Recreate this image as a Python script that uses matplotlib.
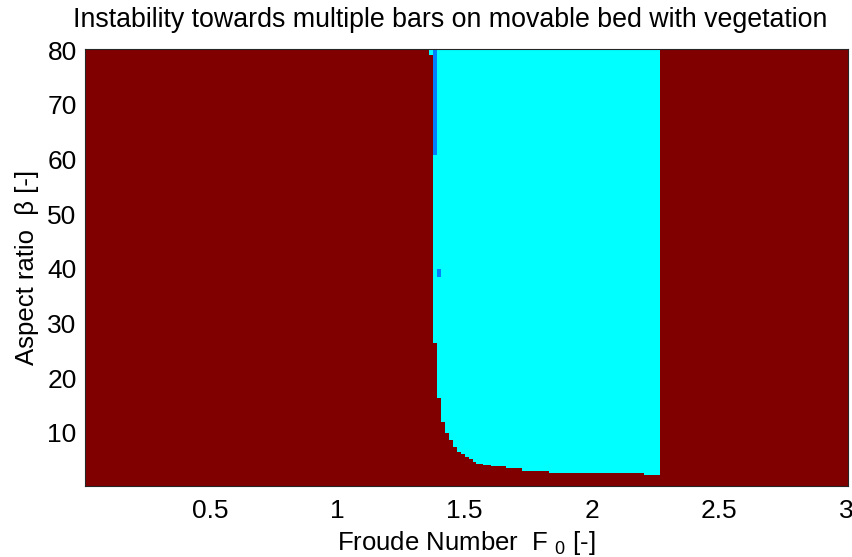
import numpy as np
import matplotlib
matplotlib.use("Agg")
import matplotlib.pyplot as plt
from matplotlib.colors import ListedColormap, BoundaryNorm

plt.rcParams['font.family'] = ['Liberation Sans', 'DejaVu Sans']
plt.rcParams['mathtext.fontset'] = 'custom'
plt.rcParams['mathtext.rm'] = 'Liberation Sans'
plt.rcParams['mathtext.it'] = 'Liberation Sans'

# Parameter space
F_MIN, F_MAX = 0.0075, 3.0075
B_MIN, B_MAX = 0.25, 80.25

# Strips of Froude number where multiple bars are unstable (one entry per strip edge)
froude_bounds = [1.3613, 1.3770, 1.3927, 1.4084, 1.4229, 1.4387, 1.4544,
                 1.4701, 1.4847, 1.5004, 1.5162, 1.5319, 1.5460, 1.5736,
                 1.6038, 1.6628, 1.7245, 1.8319, 2.2066, 2.2683]
# Lowest unstable aspect ratio in each strip
beta_onset = [79.2, 26.37, 16.30, 11.91, 9.90, 8.67, 7.44, 6.53, 6.11,
              5.61, 5.14, 4.59, 4.28, 4.10, 3.91, 3.49, 3.05, 2.63, 2.26]

# Pockets where a second mode dominates
mode2_f_lo = [1.3770, 1.3927]
mode2_f_hi = [1.3927, 1.4084]
mode2_b_lo = [60.9, 38.6]
mode2_b_hi = [80.25, 39.9]

xticks = [0.5, 1, 1.5, 2, 2.5, 3]
yticks = [10, 20, 30, 40, 50, 60, 70, 80]

# Build the class map on a grid whose edges follow the region boundaries
x_edges = np.unique(np.r_[F_MIN, froude_bounds, mode2_f_lo, mode2_f_hi, F_MAX])
y_edges = np.unique(np.r_[B_MIN, beta_onset, mode2_b_lo, mode2_b_hi, B_MAX])
xc = 0.5 * (x_edges[:-1] + x_edges[1:])
yc = 0.5 * (y_edges[:-1] + y_edges[1:])
XC, YC = np.meshgrid(xc, yc)

state = np.zeros_like(XC, dtype=int)  # 0 = stable
for lo, hi, b in zip(froude_bounds[:-1], froude_bounds[1:], beta_onset):
    state[(XC > lo) & (XC < hi) & (YC > b)] = 1
for flo, fhi, blo, bhi in zip(mode2_f_lo, mode2_f_hi, mode2_b_lo, mode2_b_hi):
    state[(XC > flo) & (XC < fhi) & (YC > blo) & (YC < bhi)] = 2

cmap = ListedColormap(['#800000', '#00ffff', '#0080ff'])
norm = BoundaryNorm([-0.5, 0.5, 1.5, 2.5], cmap.N)

fig = plt.figure(figsize=(8.52, 5.57), dpi=100)
ax = fig.add_axes([85 / 852, 71 / 557, 763 / 852, 437 / 557])
ax.pcolormesh(x_edges, y_edges, state, cmap=cmap, norm=norm,
              shading='flat', antialiased=False, edgecolors='none')
ax.set_xlim(F_MIN, F_MAX)
ax.set_ylim(B_MIN, B_MAX)
ax.set_xticks(xticks)
ax.set_xticklabels(['0.5', '1', '1.5', '2', '2.5', '3'])
ax.set_yticks(yticks)
ax.tick_params(length=0, labelsize=19, colors='black')
ax.tick_params(axis='x', pad=9)
ax.tick_params(axis='y', pad=6)
for s in ax.spines.values():
    s.set_linewidth(0.8)
    s.set_color('#262626')

fig.text(450 / 852, 1 - 20 / 557,
         'Instability towards multiple bars on movable bed with vegetation',
         fontsize=19.3, ha='center', va='center')
ax.set_xlabel('Froude Number  F $_0$ [-]', fontsize=18.5)
ax.set_ylabel('Aspect ratio  β [-]', fontsize=18.5)
ax.xaxis.set_label_coords(0.5, -0.098)
ax.yaxis.set_label_coords(-0.06, 0.50)

fig.savefig('out.png', dpi=100)
